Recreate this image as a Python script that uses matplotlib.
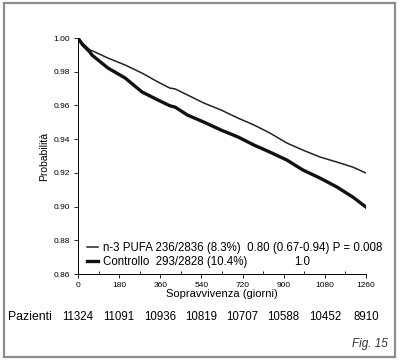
import matplotlib
matplotlib.use("Agg")
import matplotlib.pyplot as plt
import matplotlib.transforms as mtransforms
from matplotlib.patches import Rectangle

plt.rcParams['font.family'] = ['Liberation Sans', 'DejaVu Sans']

# survival curves (days, probability)
pufa_days = [0, 20, 52, 61, 131, 206, 280, 350, 402, 425, 479, 551, 626, 700,
             770, 840, 914, 984, 1059, 1133, 1203, 1260]
pufa_prob = [1.000, 0.997, 0.9929, 0.9925, 0.9881, 0.9840, 0.9792, 0.9739, 0.9703,
             0.9698, 0.9662, 0.9614, 0.9573, 0.9525, 0.9484, 0.9436, 0.9377, 0.9335,
             0.9294, 0.9264, 0.9234, 0.9199]

ctrl_days = [0, 20, 52, 61, 131, 206, 280, 350, 402, 425, 479, 551, 626, 700,
             770, 840, 914, 984, 1059, 1133, 1203, 1260]
ctrl_prob = [1.000, 0.996, 0.9917, 0.9899, 0.9822, 0.9763, 0.9680, 0.9632, 0.9598,
             0.9590, 0.9543, 0.9501, 0.9454, 0.9413, 0.9365, 0.9323, 0.9276, 0.9217,
             0.9169, 0.9116, 0.9056, 0.8997]

xticks = [0, 180, 360, 540, 720, 900, 1080, 1260]
yticks = [0.86, 0.88, 0.90, 0.92, 0.94, 0.96, 0.98, 1.00]
pazienti = [11324, 11091, 10936, 10819, 10707, 10588, 10452, 8910]

lab_pufa = "n-3 PUFA 236/2836 (8.3%)  0.80 (0.67-0.94) P = 0.008"
lab_ctrl = "Controllo  293/2828 (10.4%)"

fig = plt.figure(figsize=(4.0, 3.62), dpi=100)
ax = fig.add_axes([0.195, 0.243, 0.72, 0.652])

ax.plot(pufa_days, pufa_prob, color='#222222', lw=1.1, label=lab_pufa)
ax.plot(ctrl_days, ctrl_prob, color='#111111', lw=2.4, label=lab_ctrl)

ax.set_xlim(0, 1260)
ax.set_ylim(0.86, 1.00)
ax.set_xticks(xticks)
ax.set_xticks([90, 270, 450, 630, 810, 990, 1170], minor=True)
ax.set_yticks(yticks)
ax.set_yticklabels(["%.2f" % v for v in yticks])
ax.tick_params(axis='both', labelsize=6, length=3, width=0.6, pad=3)
ax.tick_params(axis='x', which='minor', direction='in', length=2.5, width=0.6)
for s in ['top', 'right']:
    ax.spines[s].set_visible(False)
for s in ['left', 'bottom']:
    ax.spines[s].set_linewidth(0.7)

ax.set_xlabel("Sopravvivenza (giorni)", fontsize=8, labelpad=0)
ax.set_ylabel("Probabilità", fontsize=7.5, labelpad=3)

leg = ax.legend(loc='lower left', bbox_to_anchor=(0.03, 0.027), frameon=False,
                fontsize=8.3, handlelength=1.0, handletextpad=0.45,
                labelspacing=0.12, borderpad=0, borderaxespad=0)
ax.text(980, 0.8671, "1.0", fontsize=8.3, ha='center', va='center')

# patients at risk row
trans = mtransforms.blended_transform_factory(ax.transData, fig.transFigure)
for d, n in zip(xticks, pazienti):
    ax.text(d, 0.124, str(n), transform=trans, fontsize=8.3, ha='center', va='center')
fig.text(0.02, 0.124, "Pazienti", fontsize=8.8, ha='left', va='center')

fig.text(0.97, 0.05, "Fig. 15", fontsize=8.5, style='italic', ha='right', va='center',
         color='#333333')

fig.patches.append(Rectangle((0.011, 0.013), 0.977, 0.979, transform=fig.transFigure,
                             fill=False, edgecolor='#8c8c8c', lw=1.6))

fig.savefig("out.png", dpi=100)
